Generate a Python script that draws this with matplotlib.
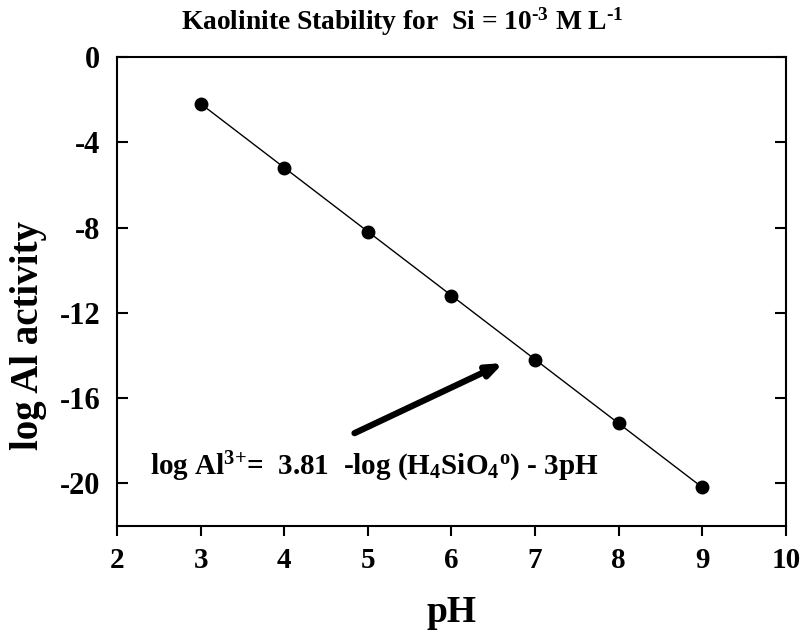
import matplotlib
matplotlib.use("Agg")
import matplotlib.pyplot as plt

pH = [3, 4, 5, 6, 7, 8, 9]
log_al = [-2.19, -5.19, -8.19, -11.19, -14.19, -17.19, -20.19]
xticks = [2, 3, 4, 5, 6, 7, 8, 9, 10]
yticks = [0, -4, -8, -12, -16, -20]

plt.rcParams['font.family'] = ['Liberation Serif', 'DejaVu Serif']
plt.rcParams['font.weight'] = 'bold'
plt.rcParams['mathtext.fontset'] = 'custom'
plt.rcParams['mathtext.rm'] = 'Liberation Serif:bold'
plt.rcParams['mathtext.it'] = 'Liberation Serif:bold'
plt.rcParams['mathtext.bf'] = 'Liberation Serif:bold'

fig = plt.figure(figsize=(8.04, 6.33), dpi=100)
ax = fig.add_axes([0.1455, 0.169, 0.8321, 0.741])
ax.plot(pH, log_al, color='black', lw=1.0, marker='o', ms=9, mec='black', mfc='black')
ax.set_xlim(2, 10)
ax.set_ylim(-22, 0)
ax.set_xticks(xticks)
ax.set_yticks(yticks)
ax.set_xticklabels([str(v) for v in xticks], fontsize=21, fontweight='bold')
ax.set_yticklabels([str(v) for v in yticks], fontsize=22, fontweight='bold')
ax.tick_params(axis='x', direction='out', length=7, width=1.5, pad=8, top=False)
ax.tick_params(axis='y', direction='in', length=8, width=1.5, left=True, right=True, pad=12)
for s in ax.spines.values():
    s.set_linewidth(1.5)

fig.text(0.5 * (117 + 786) / 804, 1 - 612 / 633, 'pH', fontsize=27, fontweight='bold',
         ha='center', va='center')
fig.text(29 / 804, 1 - 336 / 633, 'log Al activity', fontsize=28, fontweight='bold',
         ha='center', va='center', rotation=90)
fig.text(0.5, 1 - 22 / 633,
         r'Kaolinite Stability for  Si = 10$^{\text{-3}}$ M L$^{\text{-1}}$',
         ha='center', va='center', fontsize=19.8, fontweight='bold')

ax.annotate('', xy=(6.65, -14.3), xytext=(4.81, -17.7),
            arrowprops=dict(arrowstyle='-|>,head_length=0.9,head_width=0.35', lw=4.5, color='black'))
ax.text(2.39, -19.25, r'log Al$^{\text{3+}}$=  3.81  -log (H$_4$SiO$_4$$^{\text{o}}$) - 3pH',
        fontsize=21, fontweight='bold', va='center', ha='left')

fig.savefig('out.png', dpi=100)
